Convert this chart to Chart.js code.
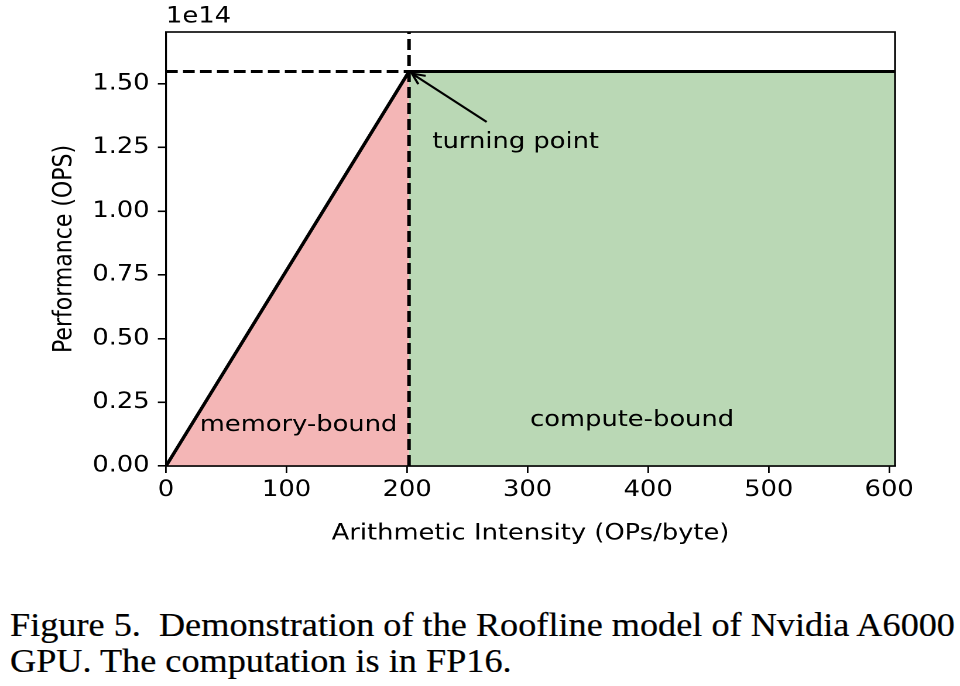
<!DOCTYPE html>
<html>
<head>
<meta charset="utf-8">
<script src="https://cdn.jsdelivr.net/npm/chart.js@4.4.1/dist/chart.umd.min.js"></script>
<style>
  html, body { margin: 0; padding: 0; background: #fff; overflow: hidden; }
  #wrap { position: relative; width: 960px; height: 560px; overflow: hidden; }
  #c { display: block; transform-origin: 0 0; transform: scaleX(1.170732); }
  #caption { position: absolute; left: 10px; top: 608px; font-family: 'Liberation Serif', serif;
    font-size: 33px; line-height: 35.5px; color: #000; white-space: nowrap; transform-origin: 0 0;
    -webkit-text-stroke: 0.2px #000; }
</style>
</head>
<body>
<div id="wrap"><canvas id="c" width="820" height="560"></canvas></div>
<div id="caption"><span id="l1">Figure 5.&nbsp; Demonstration of the Roofline model of Nvidia A6000</span><br><span id="l2">GPU. The computation is in FP16.</span></div>
<script>
// ---- data ----
const ridgeX = 201.6;            // OPs/byte
const peakPerf = 1.548e14;       // OPS
const roofX = [0, 201.6, 604.8];
const roofY = [0, 1.548e14, 1.548e14];
const memX = [0, 201.6];
const memY = [0, 1.548e14];
const compX = [201.6, 604.8];
const compY = [1.548e14, 1.548e14];
const xTicks = [0, 100, 200, 300, 400, 500, 600];
const yTicks = [0, 0.25e14, 0.5e14, 0.75e14, 1.0e14, 1.25e14, 1.5e14];
const xMax = 604.8;
const yMax = 1.703e14;
const labelTexts = ["memory-bound", "compute-bound", "turning point"];
const labelX = [28, 302, 221];
const labelY = [0.16e14, 0.18e14, 1.27e14];
const arrowFrom = [266, 1.35e14];
const arrowTo = [204, 1.54e14];

const toPts = (xs, ys) => xs.map((x, i) => ({x: x, y: ys[i]}));

const FONT = "'DejaVu Sans', sans-serif";
const FS = 22;

const overlay = {
  id: 'overlay',
  afterDatasetsDraw(chart) {
    const ctx = chart.ctx, xs = chart.scales.x, ys = chart.scales.y, a = chart.chartArea;
    ctx.save();
    ctx.fillStyle = '#000';
    ctx.font = FS + 'px ' + FONT;
    ctx.textBaseline = 'middle';
    ctx.textAlign = 'left';
    labelTexts.forEach((t, i) => ctx.fillText(t, xs.getPixelForValue(labelX[i]), ys.getPixelForValue(labelY[i])));
    // arrow
    const x1 = xs.getPixelForValue(arrowFrom[0]), y1 = ys.getPixelForValue(arrowFrom[1]);
    const x2 = xs.getPixelForValue(arrowTo[0]), y2 = ys.getPixelForValue(arrowTo[1]);
    ctx.strokeStyle = '#000';
    ctx.lineWidth = 2;
    ctx.beginPath(); ctx.moveTo(x1, y1); ctx.lineTo(x2, y2); ctx.stroke();
    const ang = Math.atan2(y2 - y1, x2 - x1), L = 12, w = 0.45;
    ctx.beginPath();
    ctx.moveTo(x2 - L * Math.cos(ang - w), y2 - L * Math.sin(ang - w));
    ctx.lineTo(x2, y2);
    ctx.lineTo(x2 - L * Math.cos(ang + w), y2 - L * Math.sin(ang + w));
    ctx.stroke();
    // frame
    ctx.lineWidth = 1.6;
    ctx.strokeRect(a.left, a.top, a.right - a.left, a.bottom - a.top);
    // offset label
    ctx.textBaseline = 'bottom';
    ctx.fillText('1e14', a.left, a.top - 4);
    ctx.restore();
  }
};

new Chart(document.getElementById('c'), {
  type: 'scatter',
  data: {
    datasets: [
      { data: toPts(memX, memY), showLine: true, borderWidth: 0, pointRadius: 0,
        backgroundColor: 'rgb(244,182,182)', borderColor: 'rgba(0,0,0,0)', fill: 'origin', order: 5 },
      { data: toPts(compX, compY), showLine: true, borderWidth: 0, pointRadius: 0,
        backgroundColor: 'rgb(186,216,181)', borderColor: 'rgba(0,0,0,0)', fill: 'origin', order: 5 },
      { data: toPts(roofX, roofY), showLine: true, borderWidth: 3, pointRadius: 0,
        borderColor: '#000', fill: false, order: 1 },
      { data: [{x: 0, y: peakPerf}, {x: ridgeX, y: peakPerf}], showLine: true, borderWidth: 3, pointRadius: 0,
        borderColor: '#000', borderDash: [10, 4.5], fill: false, order: 0 },
      { data: [{x: ridgeX, y: 0}, {x: ridgeX, y: yMax}], showLine: true, borderWidth: 3, pointRadius: 0,
        borderColor: '#000', borderDash: [11, 5], fill: false, order: 0 }
    ]
  },
  options: {
    responsive: false,
    animation: false,
    devicePixelRatio: 2,
    layout: { padding: { left: 40, top: 32, right: 55.5, bottom: 11 } },
    plugins: { legend: { display: false }, tooltip: { enabled: false } },
    scales: {
      x: {
        type: 'linear', min: 0, max: xMax,
        afterBuildTicks: s => { s.ticks = xTicks.map(v => ({value: v})); },
        afterFit: s => { s.height = 83; },
        grid: { drawOnChartArea: false, drawTicks: true, tickLength: 7, color: '#000', lineWidth: 1.4 },
        border: { display: true, color: '#000', width: 1.6 },
        ticks: { color: '#000', font: { family: FONT, size: FS }, padding: 4, maxRotation: 0 },
        title: { display: true, text: 'Arithmetic Intensity (OPs/byte)', color: '#000',
                 font: { family: FONT, size: FS }, padding: { top: 0, bottom: 2 } }
      },
      y: {
        type: 'linear', min: 0, max: yMax,
        afterBuildTicks: s => { s.ticks = yTicks.map(v => ({value: v})); },
        afterFit: s => { s.width = 101.8; },
        grid: { drawOnChartArea: false, drawTicks: true, tickLength: 7, color: '#000', lineWidth: 1.6 },
        border: { display: true, color: '#000', width: 1.4 },
        ticks: { color: '#000', font: { family: FONT, size: FS }, padding: 7,
                 callback: v => (v / 1e14).toFixed(2) },
        title: { display: true, text: 'Performance (OPS)', color: '#000',
                 font: { family: FONT, size: FS }, padding: { top: 2.3, bottom: 0 } }
      }
    }
  },
  plugins: [overlay]
});

// fit caption width
const cap = document.getElementById('caption');
const w1 = document.getElementById('l1').getBoundingClientRect().width;
cap.style.transform = 'scaleX(' + (945 / w1) + ')';
</script>
</body>
</html>
